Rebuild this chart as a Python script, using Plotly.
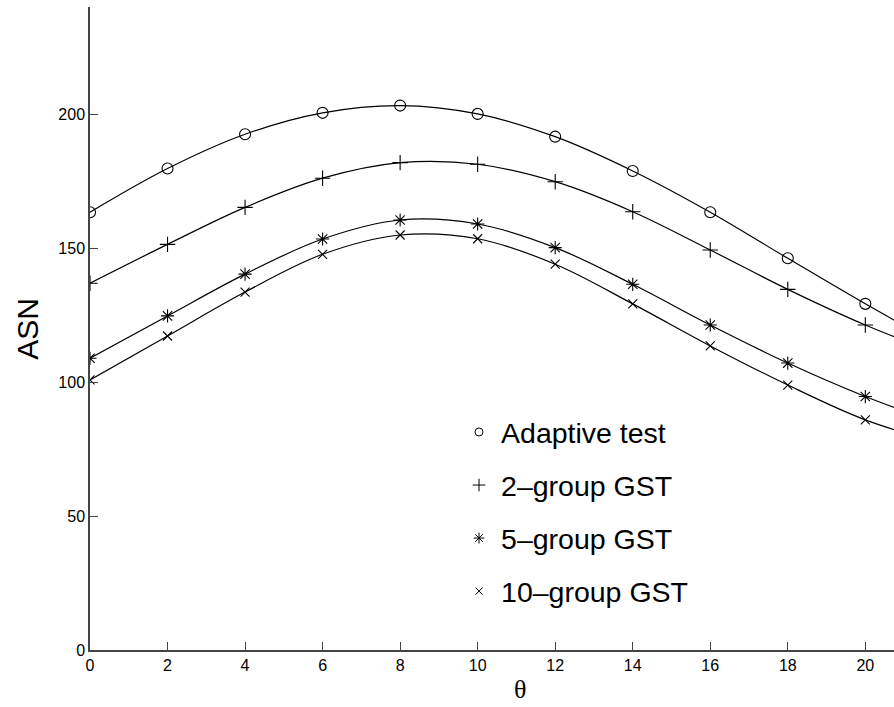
import plotly.graph_objects as go

theta = [0, 2, 4, 6, 8, 10, 12, 14, 16, 18, 20, 22]
adaptive = [163.4, 179.7, 192.5, 200.5, 203.2, 200.1, 191.6, 178.8, 163.4, 146.2, 129.2, 113.0]
two_group = [136.9, 151.4, 165.2, 176.1, 181.9, 181.3, 174.8, 163.6, 149.3, 134.6, 121.3, 110.0]
five_group = [108.9, 124.7, 140.3, 153.4, 160.5, 159.0, 150.2, 136.5, 121.3, 107.1, 94.6, 84.0]
ten_group = [100.8, 117.2, 133.6, 147.7, 154.9, 153.5, 144.0, 129.2, 113.5, 98.9, 85.9, 77.0]

names = ["Adaptive test", "2\u2013group GST", "5\u2013group GST", "10\u2013group GST"]
series = [adaptive, two_group, five_group, ten_group]
symbols = ["circle-open", "cross-thin-open", "asterisk-open", "x-thin-open"]
sizes = [11, 11, 11, 9]
leg_sizes = [8, 9, 9, 7]

fig = go.Figure()
for i, (nm, ys) in enumerate(zip(names, series)):
    fig.add_trace(go.Scatter(
        x=theta, y=ys, mode="lines+markers", showlegend=False,
        line=dict(color="black", width=1.2, shape="spline", smoothing=1.0),
        marker=dict(symbol=symbols[i], size=sizes[i], color="black",
                    line=dict(color="black", width=1.1)),
    ))
for i, nm in enumerate(names):
    fig.add_trace(go.Scatter(
        x=[None], y=[None], mode="markers", name=nm, legendgroup=f"g{i}",
        marker=dict(symbol=symbols[i], size=leg_sizes[i], color="black",
                    line=dict(color="black", width=1)),
    ))

axis_common = dict(
    showgrid=False, zeroline=False, showline=True, linecolor="#444", linewidth=1.5,
    ticks="inside", ticklen=8, tickwidth=1, tickcolor="#444",
    tickfont=dict(family="Liberation Sans, Arial", size=16, color="black"),
    mirror=False,
)

fig.update_layout(
    width=894, height=707,
    margin=dict(l=90, r=0, t=7, b=57),
    paper_bgcolor="white", plot_bgcolor="white",
    xaxis=dict(range=[0, 20.74], tickmode="array", tickvals=list(range(0, 21, 2)), **axis_common),
    yaxis=dict(range=[0, 240], tickmode="array", tickvals=[0, 50, 100, 150, 200], **axis_common),
    legend=dict(
        x=0.4565, y=0.378, xanchor="left", yanchor="top",
        font=dict(family="Liberation Sans, Arial", size=28.5, color="black"),
        bgcolor="rgba(0,0,0,0)", tracegroupgap=13, traceorder="grouped",
        itemwidth=34,
    ),
    annotations=[
        dict(text="ASN", xref="paper", yref="paper", x=-0.078, y=0.5, textangle=-90,
             showarrow=False, xanchor="center", yanchor="middle",
             font=dict(family="Liberation Sans, Arial", size=30, color="black")),
        dict(text="\u03b8", xref="paper", yref="paper", x=0.535, y=-0.061,
             showarrow=False, xanchor="center", yanchor="middle",
             font=dict(family="Liberation Serif, Times New Roman", size=26, color="black")),
    ],
)

fig.write_html(
    "out.html",
    config={"displayModeBar": False},
    post_script="document.body.style.margin='0';document.body.style.overflow='hidden';",
)
